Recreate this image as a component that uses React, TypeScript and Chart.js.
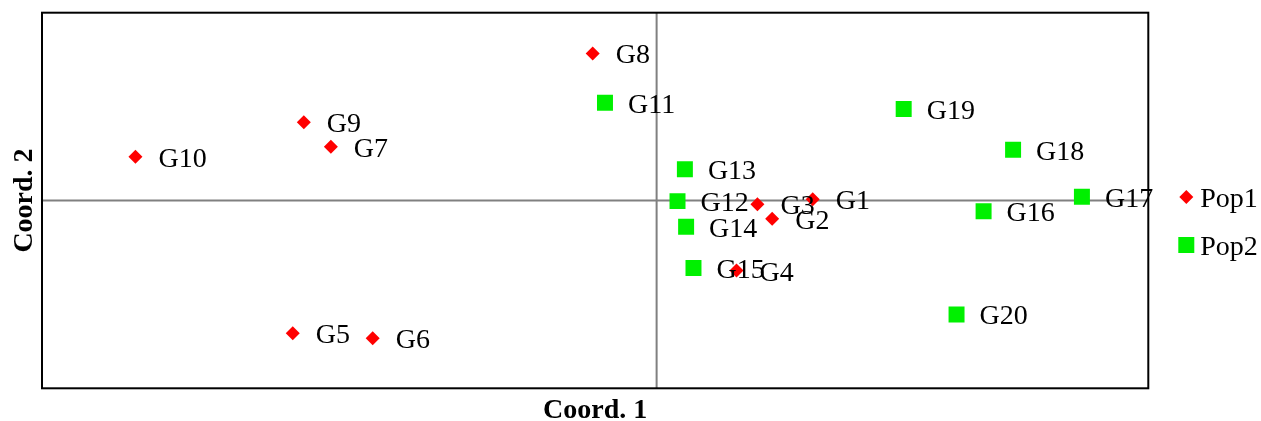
import React, { useEffect, useRef } from "react";
import { Chart, registerables } from "chart.js";

Chart.register(...registerables);

const pop1Labels = ["G1", "G2", "G3", "G4", "G5", "G6", "G7", "G8", "G9", "G10"];
const pop1X = [0.127, 0.094, 0.082, 0.065, -0.296, -0.231, -0.265, -0.052, -0.287, -0.424];
const pop1Y = [0.002, -0.029, -0.006, -0.112, -0.212, -0.22, 0.086, 0.235, 0.125, 0.07];

const pop2Labels = ["G11", "G12", "G13", "G14", "G15", "G16", "G17", "G18", "G19", "G20"];
const pop2X = [-0.042, 0.017, 0.023, 0.024, 0.03, 0.266, 0.346, 0.29, 0.201, 0.244];
const pop2Y = [0.156, -0.001, 0.05, -0.042, -0.108, -0.017, 0.006, 0.081, 0.146, -0.182];

const seriesNames = ["Pop1", "Pop2"];
const xTitle = "Coord. 1";
const yTitle = "Coord. 2";

const RED = "#ff0000";
const GREEN = "#00f000";
const SERIF = "'Liberation Serif', 'Times New Roman', serif";

const framePlugin = {
  id: "frame",
  beforeDatasetsDraw(chart: any) {
    const { ctx, chartArea, scales } = chart;
    const x0 = scales.x.getPixelForValue(0);
    const y0 = scales.y.getPixelForValue(0);
    ctx.save();
    ctx.strokeStyle = "#808080";
    ctx.lineWidth = 2;
    ctx.beginPath();
    ctx.moveTo(x0, chartArea.top);
    ctx.lineTo(x0, chartArea.bottom);
    ctx.moveTo(chartArea.left, y0);
    ctx.lineTo(chartArea.right, y0);
    ctx.stroke();
    ctx.strokeStyle = "#000";
    ctx.lineWidth = 2;
    ctx.strokeRect(chartArea.left, chartArea.top, chartArea.right - chartArea.left, chartArea.bottom - chartArea.top);
    ctx.restore();
  },
};

const labelPlugin = {
  id: "pointLabels",
  afterDatasetsDraw(chart: any) {
    const { ctx } = chart;
    ctx.save();
    ctx.font = `28px ${SERIF}`;
    ctx.fillStyle = "#000";
    ctx.textBaseline = "alphabetic";
    ctx.textAlign = "left";
    chart.data.datasets.forEach((ds: any, di: number) => {
      const meta = chart.getDatasetMeta(di);
      meta.data.forEach((el: any, i: number) => {
        ctx.fillText(ds.data[i].label, el.x + 23, el.y + 10);
      });
    });
    ctx.restore();
  },
};

const legendPlugin = {
  id: "customLegend",
  afterDraw(chart: any) {
    const { ctx, chartArea } = chart;
    const mx = chartArea.right + 38;
    const rows = [197, 245];
    ctx.save();
    ctx.font = `28px ${SERIF}`;
    ctx.textBaseline = "alphabetic";
    rows.forEach((y, i) => {
      ctx.fillStyle = i === 0 ? RED : GREEN;
      ctx.beginPath();
      if (i === 0) {
        const r = 7;
        ctx.moveTo(mx, y - r);
        ctx.lineTo(mx + r, y);
        ctx.lineTo(mx, y + r);
        ctx.lineTo(mx - r, y);
        ctx.closePath();
        ctx.fill();
      } else {
        ctx.fillRect(mx - 8, y - 8, 16, 16);
      }
      ctx.fillStyle = "#000";
      ctx.fillText(seriesNames[i], mx + 14, y + 10);
    });
    ctx.restore();
  },
};

export default function App() {
  const ref = useRef<HTMLCanvasElement>(null);
  useEffect(() => {
    if (!ref.current) return;
    const chart = new Chart(ref.current, {
      type: "scatter",
      data: {
        datasets: [
          {
            label: seriesNames[0],
            data: pop1X.map((x, i) => ({ x, y: pop1Y[i], label: pop1Labels[i] })),
            backgroundColor: RED,
            borderColor: RED,
            borderWidth: 0,
            pointStyle: "rectRot",
            pointRadius: 7,
          },
          {
            label: seriesNames[1],
            data: pop2X.map((x, i) => ({ x, y: pop2Y[i], label: pop2Labels[i] })),
            backgroundColor: GREEN,
            borderColor: GREEN,
            borderWidth: 0,
            pointStyle: "rect",
            pointRadius: 11.3,
          },
        ],
      },
      options: {
        responsive: false,
        animation: false,
        layout: { padding: { left: 0, right: 112.7, top: 12.7, bottom: 0 } },
        plugins: { legend: { display: false }, tooltip: { enabled: false } },
        scales: {
          x: {
            type: "linear",
            min: -0.5,
            max: 0.4,
            grid: { display: false, drawTicks: false },
            border: { display: false },
            ticks: { display: false },
            title: {
              display: true,
              text: xTitle,
              color: "#000",
              font: { family: SERIF, size: 28, weight: "bold", lineHeight: 1 },
              padding: { top: 8.7, bottom: -4 },
            },
          },
          y: {
            type: "linear",
            min: -0.3,
            max: 0.3,
            grid: { display: false, drawTicks: false },
            border: { display: false },
            ticks: { display: false },
            title: {
              display: true,
              text: yTitle,
              color: "#000",
              font: { family: SERIF, size: 28, weight: "bold", lineHeight: 1 },
              padding: { top: 10.8, bottom: 3.2 },
            },
          },
        },
      },
      plugins: [framePlugin, labelPlugin, legendPlugin],
    });
    return () => chart.destroy();
  }, []);
  return (
    <div style={{ position: "fixed", left: 0, top: 0, width: 1261, height: 421, background: "#fff" }}>
      <canvas ref={ref} width={1261} height={421} style={{ display: "block" }} />
    </div>
  );
}
